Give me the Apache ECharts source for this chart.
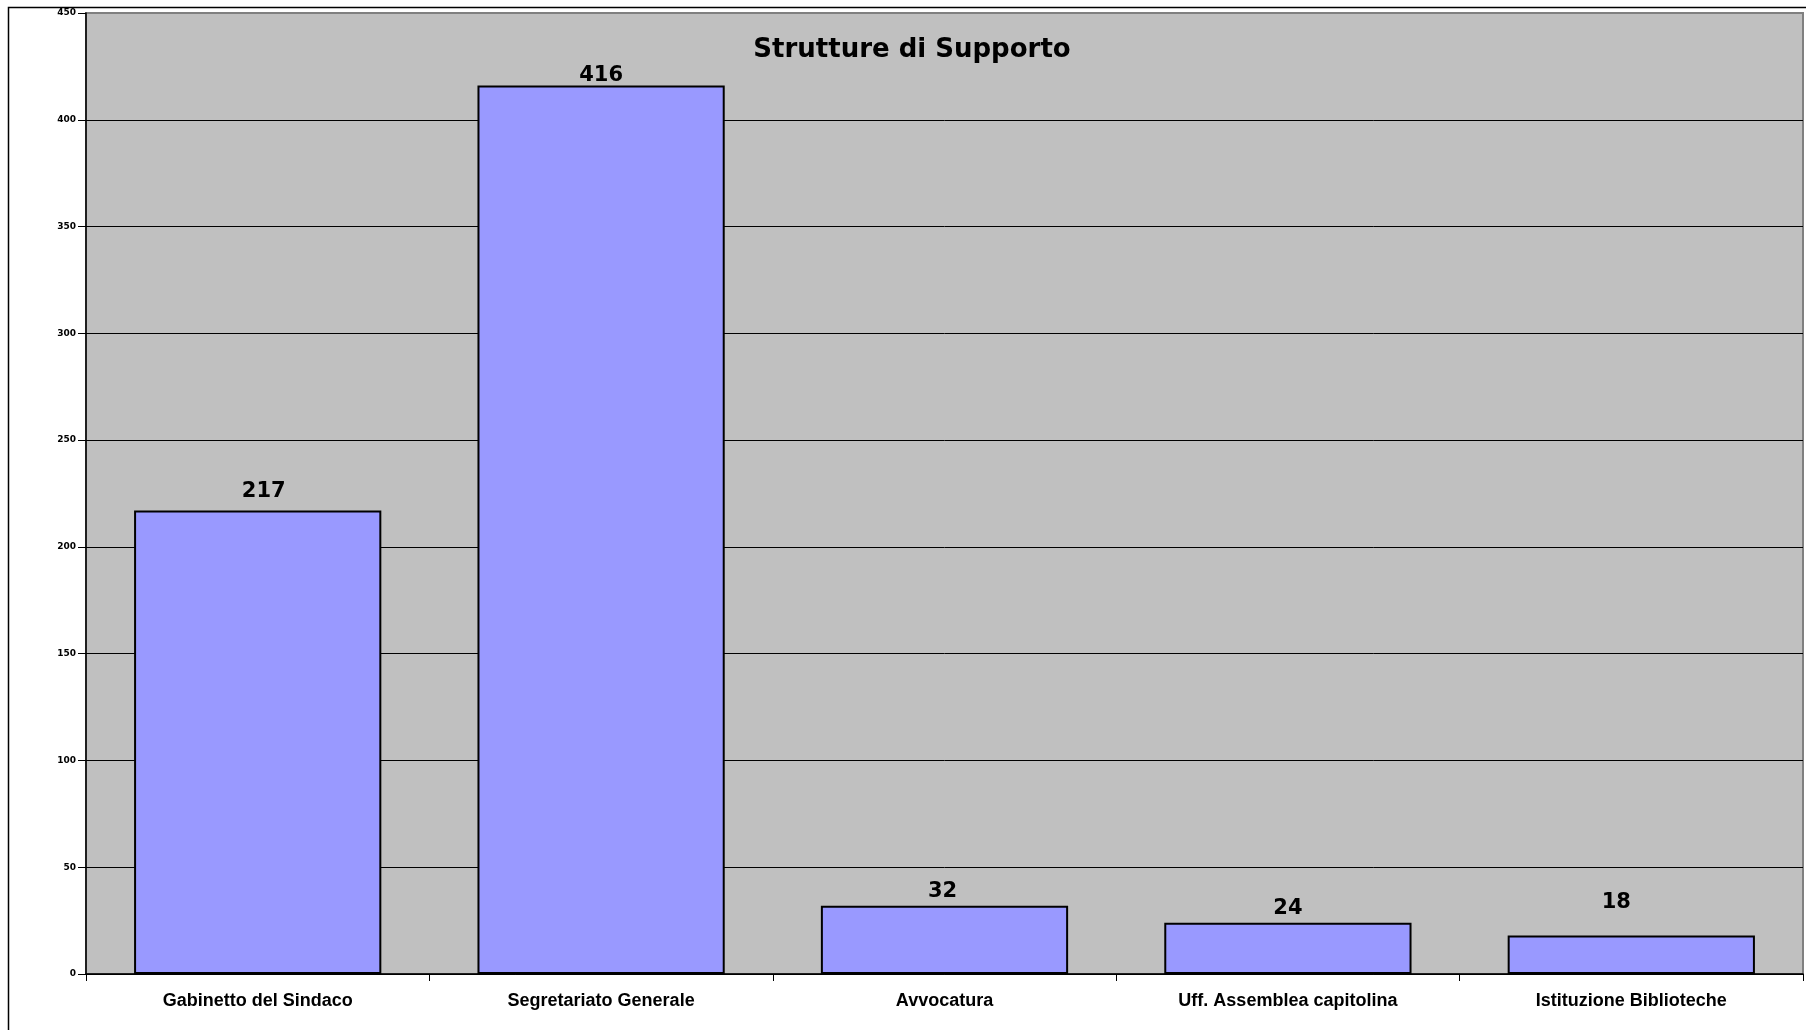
<!DOCTYPE html>
<html>
<head>
<meta charset="utf-8">
<script src="https://cdn.jsdelivr.net/npm/echarts@6/dist/echarts.min.js"></script>
<style>
  html, body { margin: 0; padding: 0; background: #fff; }
  #chart { width: 1812px; height: 1030px; }
</style>
</head>
<body>
<div id="chart"></div>
<script>
// Staff counts per support structure
const categories = ['Gabinetto del Sindaco', 'Segretariato Generale', 'Avvocatura', 'Uff. Assemblea capitolina', 'Istituzione Biblioteche'];
const values = [217, 416, 32, 24, 18];
const titleText = 'Strutture di Supporto';
const yMin = 0, yMax = 450, yStep = 50;

// hand-placed value labels: extra lift above the bar and sideways shift (px)
const labelLift = [5, -4, 0, 0, 19];
const labelShift = [6, 0, -2, 0, -15];

const chart = echarts.init(document.getElementById('chart'), null, { renderer: 'canvas' });

// grid lines are black; the topmost one doubles as the grey plot frame
const gridColors = [];
for (let v = yMin; v <= yMax; v += yStep) gridColors.push(v === yMax ? '#808080' : '#000000');

const barData = values.map((v, i) => ({
  value: v,
  label: { distance: 3.5 + labelLift[i], offset: [labelShift[i], 0] }
}));

chart.setOption({
  animation: false,
  backgroundColor: '#ffffff',
  grid: {
    left: 86, right: 9, top: 13, bottom: 56,
    show: true,
    backgroundColor: '#C0C0C0',
    borderColor: '#808080',
    borderWidth: 2
  },
  xAxis: {
    type: 'category',
    data: categories,
    axisLine: { show: true, lineStyle: { color: '#000', width: 1.5 } },
    axisTick: { show: true, inside: false, length: 7, lineStyle: { color: '#000', width: 1 } },
    axisLabel: {
      margin: 18,
      color: '#000',
      fontFamily: '"Liberation Sans Narrow", "Arial Narrow", "Liberation Sans", sans-serif',
      fontWeight: 'bold',
      fontSize: 18
    }
  },
  yAxis: {
    type: 'value',
    min: yMin, max: yMax, interval: yStep,
    axisLine: { show: true, lineStyle: { color: '#000', width: 1.5 } },
    axisTick: { show: true, inside: false, length: 8, lineStyle: { color: '#000', width: 1 } },
    axisLabel: {
      margin: 10,
      color: '#000',
      fontFamily: '"DejaVu Sans", Verdana, sans-serif',
      fontWeight: 'bold',
      fontSize: 9
    },
    splitLine: { show: true, lineStyle: { color: gridColors, width: 1 } }
  },
  series: [{
    type: 'bar',
    data: barData,
    barCategoryGap: '28%',
    itemStyle: { color: '#9999FF', borderColor: '#000', borderWidth: 2 },
    label: {
      show: true,
      position: 'top',
      color: '#000',
      fontFamily: '"DejaVu Sans", Verdana, sans-serif',
      fontWeight: 'bold',
      fontSize: 21
    }
  }],
  graphic: [
    {
      type: 'text',
      x: 912, y: 50,
      style: {
        text: titleText,
        textAlign: 'center',
        textVerticalAlign: 'middle',
        fill: '#000',
        font: 'bold 26px "DejaVu Sans", Verdana, sans-serif'
      },
      z: 100
    },
    {
      type: 'polyline',
      shape: { points: [[8.5, 1030], [8.5, 7.5], [1806, 7.5]] },
      style: { stroke: '#000', lineWidth: 1.5, fill: null },
      z: 100
    }
  ]
});
</script>
</body>
</html>
